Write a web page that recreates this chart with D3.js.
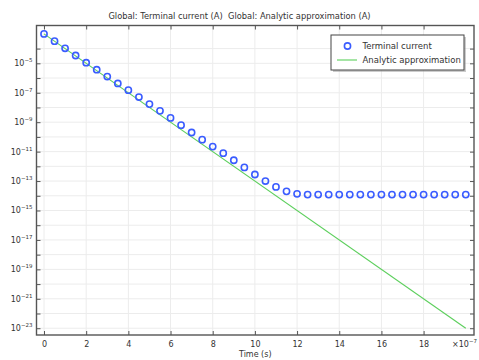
<!DOCTYPE html>
<html>
<head>
<meta charset="utf-8">
<script src="https://cdn.jsdelivr.net/npm/d3@7"></script>
<style>
  body { margin: 0; background: #fff; }
  text { font-family: "DejaVu Sans", sans-serif; fill: #333; }
</style>
</head>
<body>
<svg></svg>
<script>
// time in units of 1e-7 s
const timeSteps = [0, 0.5, 1, 1.5, 2, 2.5, 3, 3.5, 4, 4.5, 5, 5.5, 6, 6.5, 7, 7.5, 8, 8.5, 9, 9.5,
  10, 10.5, 11, 11.5, 12, 12.5, 13, 13.5, 14, 14.5, 15, 15.5, 16, 16.5, 17, 17.5, 18, 18.5, 19, 19.5, 20]
const terminalCurrent = [1.0e-3, 3.2e-4, 1.05e-4, 3.4e-5, 1.1e-5, 3.7e-6, 1.26e-6, 4.3e-7, 1.5e-7, 5.1e-8,
  1.7e-8, 5.9e-9, 1.95e-9, 6.3e-10, 2.0e-10, 6.5e-11, 2.2e-11, 7.9e-12, 2.6e-12, 8.5e-13,
  2.8e-13, 1.0e-13, 4.0e-14, 2.0e-14, 1.35e-14, 1.2e-14, 1.2e-14, 1.2e-14, 1.2e-14, 1.2e-14,
  1.2e-14, 1.2e-14, 1.2e-14, 1.2e-14, 1.2e-14, 1.2e-14, 1.2e-14, 1.2e-14, 1.2e-14, 1.2e-14, 1.2e-14]
const analyticTime = [0, 20]
const analyticCurrent = [1e-3, 1e-23]
const xTicks = [0, 2, 4, 6, 8, 10, 12, 14, 16, 18]
const yTickExps = [-23, -22, -21, -20, -19, -18, -17, -16, -15, -14, -13, -12, -11, -10, -9, -8, -7, -6, -5, -4]
const yLabelExps = [-23, -21, -19, -17, -15, -13, -11, -9, -7, -5]

let width = 479
let height = 360
let pLeft = 36.5, pRight = 474, pTop = 25.5, pBottom = 335

const svg = d3.select('svg').attr('width', width).attr('height', height)

const xScale = d3.scaleLinear().domain([-0.356, 20.39]).range([pLeft, pRight])
const yScale = d3.scaleLog().domain([Math.pow(10, -23.46), Math.pow(10, -2.43)]).range([pBottom, pTop])

// grid
svg.append('g').selectAll('line').data(xTicks).enter().append('line')
  .attr('x1', d => xScale(d)).attr('x2', d => xScale(d))
  .attr('y1', pTop).attr('y2', pBottom)
  .attr('stroke', '#ececec').attr('stroke-width', 1)
svg.append('g').selectAll('line').data(yTickExps).enter().append('line')
  .attr('x1', pLeft).attr('x2', pRight)
  .attr('y1', d => yScale(Math.pow(10, d))).attr('y2', d => yScale(Math.pow(10, d)))
  .attr('stroke', '#ececec').attr('stroke-width', 1)

// analytic line
const line = d3.line().x(d => xScale(d[0])).y(d => yScale(d[1]))
svg.append('path')
  .datum(analyticTime.map((t, i) => [t, analyticCurrent[i]]))
  .attr('d', line)
  .attr('fill', 'none').attr('stroke', '#5ccf5c').attr('stroke-width', 1.1)

// terminal current points
svg.append('g').selectAll('circle').data(timeSteps).enter().append('circle')
  .attr('cx', d => xScale(d))
  .attr('cy', (d, i) => yScale(terminalCurrent[i]))
  .attr('r', 3.1)
  .attr('fill', 'none').attr('stroke', '#3a5cff').attr('stroke-width', 1.6)

// axes, ticks inward on all sides
const axisColor = '#555'
svg.append('g').attr('transform', 'translate(0,' + pBottom + ')')
  .call(d3.axisBottom(xScale).tickValues(xTicks).tickSizeInner(-4).tickSizeOuter(0).tickPadding(6))
svg.append('g').attr('transform', 'translate(0,' + pTop + ')')
  .call(d3.axisTop(xScale).tickValues(xTicks).tickSizeInner(-4).tickSizeOuter(0).tickFormat(''))
const yVals = yTickExps.map(e => Math.pow(10, e))
svg.append('g').attr('transform', 'translate(' + pLeft + ',0)')
  .call(d3.axisLeft(yScale).tickValues(yVals).tickSizeInner(-4).tickSizeOuter(0).tickFormat(''))
svg.append('g').attr('transform', 'translate(' + pRight + ',0)')
  .call(d3.axisRight(yScale).tickValues(yVals).tickSizeInner(-4).tickSizeOuter(0).tickFormat(''))
svg.selectAll('.domain').remove()
svg.selectAll('.tick line').attr('stroke', axisColor).attr('stroke-width', 1)
svg.selectAll('.tick text').style('font-size', '8px').attr('fill', '#333')

svg.append('rect')
  .attr('x', pLeft).attr('y', pTop).attr('width', pRight - pLeft).attr('height', pBottom - pTop)
  .attr('fill', 'none').attr('stroke', axisColor).attr('stroke-width', 1.4)

// y labels 10^n
const yLab = svg.append('g').selectAll('text').data(yLabelExps).enter().append('text')
  .attr('x', pLeft - 4).attr('y', d => yScale(Math.pow(10, d)) + 3)
  .attr('text-anchor', 'end').style('font-size', '8px')
yLab.append('tspan').text('10')
yLab.append('tspan').attr('dy', -4).style('font-size', '5.5px').text(d => '\u2212' + (-d))

// x multiplier
const mult = svg.append('text').attr('x', 452).attr('y', pBottom + 12).style('font-size', '8px')
mult.append('tspan').text('\u00d710')
mult.append('tspan').attr('dy', -4).style('font-size', '5.5px').text('\u22127')

svg.append('text').attr('x', (pLeft + pRight) / 2).attr('y', pBottom + 21.5)
  .attr('text-anchor', 'middle').style('font-size', '8px').text('Time (s)')

svg.append('text').attr('x', width / 2).attr('y', 18.5)
  .attr('text-anchor', 'middle').style('font-size', '8.3px')
  .attr('xml:space', 'preserve')
  .text('Global: Terminal current (A)  Global: Analytic approximation (A)')

// legend
const lg = svg.append('g')
lg.append('rect').attr('x', 333).attr('y', 37).attr('width', 133).attr('height', 35)
  .attr('fill', '#999').attr('opacity', 0.5)
lg.append('rect').attr('x', 331).attr('y', 35).attr('width', 133).attr('height', 35)
  .attr('fill', '#fff').attr('stroke', '#444').attr('stroke-width', 1)
lg.append('circle').attr('cx', 347.5).attr('cy', 46).attr('r', 3.1)
  .attr('fill', 'none').attr('stroke', '#3a5cff').attr('stroke-width', 1.6)
lg.append('line').attr('x1', 337).attr('x2', 357).attr('y1', 60).attr('y2', 60)
  .attr('stroke', '#5ccf5c').attr('stroke-width', 1.1)
lg.append('text').attr('x', 362.5).attr('y', 49).style('font-size', '8.5px').text('Terminal current')
lg.append('text').attr('x', 362.5).attr('y', 63).style('font-size', '8.5px').text('Analytic approximation')
</script>
</body>
</html>
